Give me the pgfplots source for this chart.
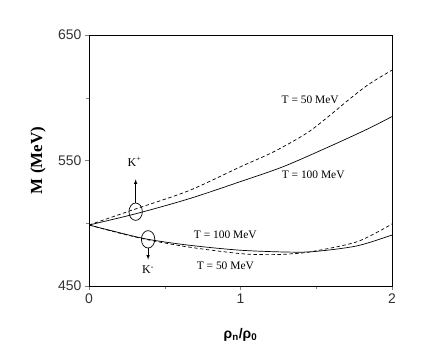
\documentclass[border=0pt]{standalone}
\usepackage{fontspec}
\setmainfont{Liberation Serif}
\newfontfamily\ticksf{Liberation Sans}
\usepackage{pgfplots}
\pgfplotsset{compat=1.18}

\begin{document}
\begin{tikzpicture}
\useasboundingbox (-89bp,-68bp) rectangle (347bp,286bp);
\begin{axis}[
  at={(0,0)}, anchor=south west,
  scale only axis,
  width=303bp, height=251bp,
  xmin=0, xmax=2, ymin=450, ymax=650,
  xtick={0,1,2}, ytick={450,550,650},
  minor xtick={0.5,1.5}, minor ytick={500,600},
  tick align=outside, tick pos=left,
  major tick length=4bp, minor tick length=2.5bp,
  /pgf/number format/assume math mode=true,
  tick label style={font=\ticksf\fontsize{14}{14}\selectfont, text=black!80},
  axis line style={line width=0.8pt},
  xlabel={\ticksf\bfseries\fontsize{14}{14}\selectfont ρ\textsubscript{n}/ρ\textsubscript{0}},
  ylabel={\bfseries\fontsize{17}{17}\selectfont M (MeV)},
  xlabel style={at={(axis description cs:0.5,-0.195)}, anchor=center},
  ylabel style={at={(axis description cs:-0.168,0.5)}, anchor=center},
]
% K+ , T = 100 MeV
\addplot[black, line width=0.7pt, smooth] coordinates {
  (0,498.6) (0.31,507.6) (0.66,519.5) (1.0,533.2) (1.28,545.0)
  (1.57,560.2) (1.83,574.6) (2.0,585.0)
};
% K+ , T = 50 MeV
\addplot[black, line width=0.7pt, smooth, dash pattern=on 3.5pt off 2.5pt] coordinates {
  (0,498.6) (0.31,511.5) (0.66,526.0) (1.0,545.0) (1.22,557.0)
  (1.44,572.0) (1.6,587.0) (1.72,599.0) (1.85,611.0) (2.0,622.0)
};
% K- , T = 100 MeV
\addplot[black, line width=0.7pt, smooth] coordinates {
  (0,498.6) (0.2,492.5) (0.39,487.2) (0.66,482.5) (1.0,478.5)
  (1.33,477.0) (1.5,477.6) (1.77,482.0) (2.0,490.6)
};
% K- , T = 50 MeV
\addplot[black, line width=0.7pt, smooth, dash pattern=on 3.5pt off 2.5pt] coordinates {
  (0,498.6) (0.2,492.2) (0.39,486.8) (0.66,481.0) (1.0,475.8)
  (1.2,475.0) (1.33,475.6) (1.47,477.4) (1.77,485.3) (2.0,499.4)
};
\node[font=\fontsize{11.5}{12}\selectfont] at (axis cs:1.46,598.2) {T = 50 MeV};
\node[font=\fontsize{11.5}{12}\selectfont] at (axis cs:1.48,538.4) {T = 100 MeV};
\node[font=\fontsize{11.5}{12}\selectfont] at (axis cs:0.90,490.6) {T = 100 MeV};
\node[font=\fontsize{11.5}{12}\selectfont] at (axis cs:0.90,466.0) {T = 50 MeV};
\draw[line width=0.7pt] (axis cs:0.308,509.2) ellipse [x radius=6.7bp, y radius=8.7bp];
\draw[line width=0.7pt] (axis cs:0.39,487.2) ellipse [x radius=6.7bp, y radius=8.7bp];
\draw[-latex, line width=0.6pt] (axis cs:0.308,516) -- (axis cs:0.308,535);
\draw[-latex, line width=0.6pt] (axis cs:0.39,480.5) -- (axis cs:0.39,471);
\node[font=\fontsize{12}{12}\selectfont] at (axis cs:0.30,549) {K\textsuperscript{+}};
\node[font=\fontsize{12}{12}\selectfont] at (axis cs:0.39,462.7) {K\textsuperscript{-}};
\end{axis}
\end{tikzpicture}
\end{document}
